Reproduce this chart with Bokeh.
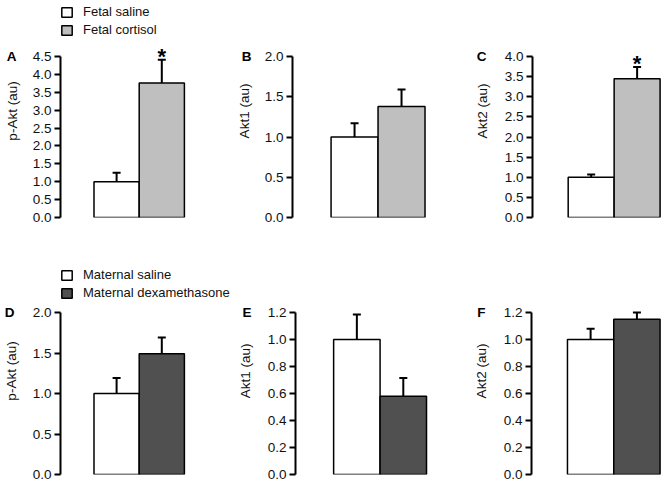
from bokeh.plotting import figure
from bokeh.layouts import row, column
from bokeh.models import (Range1d, FixedTicker, PrintfTickFormatter, Whisker, TeeHead,
                          Legend, LegendItem, ColumnDataSource, Grid, LinearAxis,
                          CustomJSTickFormatter)
from bokeh.core.properties import value
from bokeh.embed import file_html
from bokeh.resources import INLINE

# ---------------- data ----------------
top_groups = ["Fetal saline", "Fetal cortisol"]
bottom_groups = ["Maternal saline", "Maternal dexamethasone"]
top_colors = ["#ffffff", "#bfbfbf"]
bottom_colors = ["#ffffff", "#505050"]

panel_letters = ["A", "B", "C", "D", "E", "F"]
y_labels = ["p-Akt (au)", "Akt1 (au)", "Akt2 (au)", "p-Akt (au)", "Akt1 (au)", "Akt2 (au)"]

ticks_A = [0.0, 0.5, 1.0, 1.5, 2.0, 2.5, 3.0, 3.5, 4.0, 4.5]
ticks_B = [0.0, 0.5, 1.0, 1.5, 2.0]
ticks_C = [0.0, 0.5, 1.0, 1.5, 2.0, 2.5, 3.0, 3.5, 4.0]
ticks_D = [0.0, 0.5, 1.0, 1.5, 2.0]
ticks_E = [0.0, 0.2, 0.4, 0.6, 0.8, 1.0, 1.2]
ticks_F = [0.0, 0.2, 0.4, 0.6, 0.8, 1.0, 1.2]

mean_A = [1.0, 3.76]
sem_A = [0.25, 0.65]
mean_B = [1.0, 1.38]
sem_B = [0.17, 0.21]
mean_C = [1.0, 3.45]
sem_C = [0.07, 0.29]
mean_D = [1.0, 1.49]
sem_D = [0.19, 0.20]
mean_E = [1.0, 0.58]
sem_E = [0.185, 0.135]
mean_F = [1.0, 1.15]
sem_F = [0.08, 0.05]

stars_A = ["", "*"]
stars_B = ["", ""]
stars_C = ["", "*"]
stars_D = ["", ""]
stars_E = ["", ""]
stars_F = ["", ""]

# ---------------- layout constants ----------------
FONT = "Liberation Sans"
FS = "13.5px"
col_width = [[233, 238, 193], [235, 236, 193]]
border_left = [[60, 57, 58], [60, 56, 58]]
bar_px = [45.2, 47.5, 47.0]
gap_px = [33.5, 39, 36.5]
letter_standoff = [13, 10, 15, 15, 13, 15]
label_standoff = [-16, -13, -16, -17, -14, -15]


def make_panel(i, means, sems, stars, ticks, groups, colors, row_idx, with_legend):
    c = i % 3
    if row_idx == 0:
        h, mbt, mbb, axis_px = 240, 4, 23, 161
    else:
        h, mbt, mbb, axis_px = 243, 27, 9, 162
    bl = border_left[row_idx][c]
    wd = col_width[row_idx][c]
    frame_h = h - mbt - mbb
    frame_w = wd - bl
    bw = bar_px[c]
    x0 = -0.5 - gap_px[c] / bw
    top_val = ticks[-1]
    p = figure(width=wd, height=h,
               x_range=Range1d(x0, x0 + frame_w / bw),
               y_range=Range1d(0, top_val * frame_h / axis_px),
               output_backend="svg", toolbar_location=None,
               x_axis_location=None,
               min_border_left=bl, min_border_right=0,
               min_border_top=mbt, min_border_bottom=mbb)
    p.outline_line_color = None
    p.background_fill_color = "white"
    p.border_fill_color = "white"
    p.center = [r for r in p.center if not isinstance(r, Grid)]

    # main value axis (next to the frame)
    ax = p.yaxis[0]
    ax.bounds = (0, top_val)
    ax.ticker = FixedTicker(ticks=ticks)
    ax.formatter = PrintfTickFormatter(format="%.1f")
    ax.major_label_text_font = FONT
    ax.major_label_text_font_size = FS
    ax.major_label_text_color = "#111111"
    ax.major_label_standoff = 3
    ax.major_tick_out = 6
    ax.major_tick_in = 0
    ax.minor_tick_line_color = None
    ax.axis_line_width = 2
    ax.axis_line_color = "black"
    ax.major_tick_line_width = 2
    ax.major_tick_line_color = "black"

    # outer axis: panel letter at the top tick, and the axis title
    lax = LinearAxis(ticker=FixedTicker(ticks=[top_val]), bounds=(0, top_val),
                     formatter=CustomJSTickFormatter(args=dict(t=panel_letters[i]),
                                                     code="return t"),
                     axis_line_color=None, major_tick_line_color=None,
                     minor_tick_line_color=None, major_tick_out=0, major_tick_in=0,
                     major_label_standoff=letter_standoff[i],
                     major_label_text_font=FONT, major_label_text_font_size=FS,
                     major_label_text_font_style="bold", major_label_text_color="black",
                     axis_label=y_labels[i], axis_label_text_font=FONT,
                     axis_label_text_font_style="normal", axis_label_text_font_size=FS,
                     axis_label_text_color="#111111",
                     axis_label_standoff=label_standoff[i])
    p.add_layout(lax, "left")

    src = ColumnDataSource(dict(
        x=[0, 1], top=means,
        upper=[m + s for m, s in zip(means, sems)],
        color=colors, star=stars))

    whisk = Whisker(base="x", lower="top", upper="upper", source=src, dimension="height",
                    line_width=2, line_color="black",
                    upper_head=TeeHead(size=8, line_width=2, line_color="black"),
                    lower_head=None)
    p.add_layout(whisk)

    bars = p.vbar(x="x", top="top", bottom=0, width=1, source=src,
                  fill_color="color", line_color="black", line_width=1.5)

    p.text(x="x", y="upper", text="star", source=src,
           text_font=value(FONT), text_font_style="bold", text_font_size="22px",
           text_align="center", text_baseline="alphabetic", y_offset=-3,
           text_color="black")

    if with_legend:
        leg = Legend(items=[LegendItem(label=groups[0], renderers=[bars], index=0),
                            LegendItem(label=groups[1], renderers=[bars], index=1)],
                     location="top_left", margin=0, padding=0, spacing=3,
                     glyph_width=13, glyph_height=12, label_height=12,
                     label_standoff=10, label_text_font=FONT,
                     label_text_font_size="13px", label_text_color="#111111",
                     background_fill_alpha=0, border_line_color=None)
        p.add_layout(leg)
    return p


pA = make_panel(0, mean_A, sem_A, stars_A, ticks_A, top_groups, top_colors, 0, True)
pB = make_panel(1, mean_B, sem_B, stars_B, ticks_B, top_groups, top_colors, 0, False)
pC = make_panel(2, mean_C, sem_C, stars_C, ticks_C, top_groups, top_colors, 0, False)
pD = make_panel(3, mean_D, sem_D, stars_D, ticks_D, bottom_groups, bottom_colors, 1, True)
pE = make_panel(4, mean_E, sem_E, stars_E, ticks_E, bottom_groups, bottom_colors, 1, False)
pF = make_panel(5, mean_F, sem_F, stars_F, ticks_F, bottom_groups, bottom_colors, 1, False)

layout = column(row(pA, pB, pC, spacing=0), row(pD, pE, pF, spacing=0), spacing=0)

with open("out.html", "w") as f:
    f.write(file_html(layout, INLINE))
